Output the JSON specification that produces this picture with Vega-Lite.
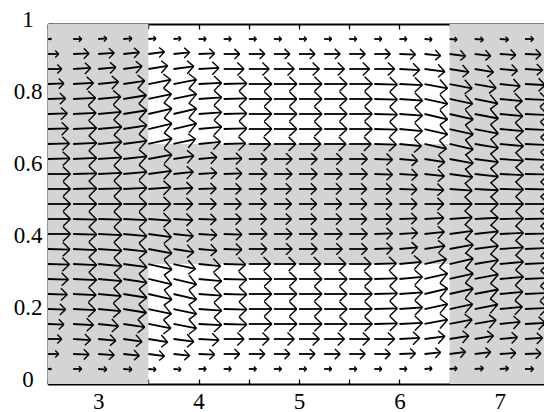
{
"$schema": "https://vega.github.io/schema/vega-lite/v6.json",
"width": 496, "height": 360,
"autosize": {"type": "none"},
"padding": {"left": 48, "top": 24, "right": 0, "bottom": 28},
"config": {"view": {"stroke": null}, "axis": {"grid": false, "domainColor": "#000", "domainWidth": 1.8, "tickColor": "#000", "tickWidth": 1.3, "labelFont": "Liberation Serif", "labelFontSize": 23, "labelColor": "#000", "zindex": 1}},
"datasets": {
"regions": [{"x0":2.5,"x1":3.5,"y0":0,"y1":1},{"x0":6.5,"x1":7.5,"y0":0,"y1":1},{"x0":3.5,"x1":6.5,"y0":0.3333,"y1":0.6667}],
"arrows": [
{"x":2.5,"y":0.0417,"u":0.03,"v":0},{"x":2.5,"y":0.0833,"u":0.1,"v":0},{"x":2.5,"y":0.125,"u":0.129,"v":0},{"x":2.5,"y":0.1667,"u":0.149,"v":-0.0014},{"x":2.5,"y":0.2083,"u":0.164,"v":-0.0014},{"x":2.5,"y":0.25,"u":0.179,"v":-0.0014},{"x":2.5,"y":0.2917,"u":0.189,"v":-0.0014},{"x":2.5,"y":0.3333,"u":0.199,"v":-0.0014},{"x":2.5,"y":0.375,"u":0.204,"v":-0.0014},{"x":2.5,"y":0.4167,"u":0.209,"v":0},{"x":2.5,"y":0.4583,"u":0.209,"v":0},{"x":2.5,"y":0.5,"u":0.209,"v":0},{"x":2.5,"y":0.5417,"u":0.209,"v":0},{"x":2.5,"y":0.5833,"u":0.209,"v":0},{"x":2.5,"y":0.625,"u":0.204,"v":0.0014},{"x":2.5,"y":0.6667,"u":0.199,"v":0.0014},{"x":2.5,"y":0.7083,"u":0.189,"v":0.0014},{"x":2.5,"y":0.75,"u":0.179,"v":0.0014},{"x":2.5,"y":0.7917,"u":0.164,"v":0.0014},{"x":2.5,"y":0.8333,"u":0.149,"v":0.0014},{"x":2.5,"y":0.875,"u":0.129,"v":0},{"x":2.5,"y":0.9167,"u":0.1,"v":0},{"x":2.5,"y":0.9583,"u":0.03,"v":0},
{"x":2.75,"y":0.0417,"u":0.08,"v":0},{"x":2.75,"y":0.0833,"u":0.149,"v":-0.0014},{"x":2.75,"y":0.125,"u":0.164,"v":-0.0028},{"x":2.75,"y":0.1667,"u":0.189,"v":-0.0028},{"x":2.75,"y":0.2083,"u":0.209,"v":-0.0028},{"x":2.75,"y":0.25,"u":0.214,"v":-0.0028},{"x":2.75,"y":0.2917,"u":0.219,"v":-0.0028},{"x":2.75,"y":0.3333,"u":0.219,"v":-0.0028},{"x":2.75,"y":0.375,"u":0.219,"v":-0.0028},{"x":2.75,"y":0.4167,"u":0.219,"v":-0.0014},{"x":2.75,"y":0.4583,"u":0.219,"v":-0.0014},{"x":2.75,"y":0.5,"u":0.219,"v":0},{"x":2.75,"y":0.5417,"u":0.219,"v":0.0014},{"x":2.75,"y":0.5833,"u":0.219,"v":0.0014},{"x":2.75,"y":0.625,"u":0.219,"v":0.0028},{"x":2.75,"y":0.6667,"u":0.219,"v":0.0028},{"x":2.75,"y":0.7083,"u":0.219,"v":0.0028},{"x":2.75,"y":0.75,"u":0.214,"v":0.0028},{"x":2.75,"y":0.7917,"u":0.209,"v":0.0028},{"x":2.75,"y":0.8333,"u":0.189,"v":0.0028},{"x":2.75,"y":0.875,"u":0.164,"v":0.0028},{"x":2.75,"y":0.9167,"u":0.149,"v":0.0014},{"x":2.75,"y":0.9583,"u":0.08,"v":0},
{"x":3.0,"y":0.0417,"u":0.08,"v":-0.0014},{"x":3.0,"y":0.0833,"u":0.149,"v":-0.0028},{"x":3.0,"y":0.125,"u":0.164,"v":-0.0042},{"x":3.0,"y":0.1667,"u":0.189,"v":-0.0056},{"x":3.0,"y":0.2083,"u":0.209,"v":-0.0056},{"x":3.0,"y":0.25,"u":0.214,"v":-0.0056},{"x":3.0,"y":0.2917,"u":0.219,"v":-0.0056},{"x":3.0,"y":0.3333,"u":0.219,"v":-0.0056},{"x":3.0,"y":0.375,"u":0.219,"v":-0.0042},{"x":3.0,"y":0.4167,"u":0.219,"v":-0.0028},{"x":3.0,"y":0.4583,"u":0.219,"v":-0.0014},{"x":3.0,"y":0.5,"u":0.219,"v":0},{"x":3.0,"y":0.5417,"u":0.219,"v":0.0014},{"x":3.0,"y":0.5833,"u":0.219,"v":0.0028},{"x":3.0,"y":0.625,"u":0.219,"v":0.0042},{"x":3.0,"y":0.6667,"u":0.219,"v":0.0056},{"x":3.0,"y":0.7083,"u":0.219,"v":0.0056},{"x":3.0,"y":0.75,"u":0.214,"v":0.0056},{"x":3.0,"y":0.7917,"u":0.209,"v":0.0056},{"x":3.0,"y":0.8333,"u":0.189,"v":0.0056},{"x":3.0,"y":0.875,"u":0.164,"v":0.0042},{"x":3.0,"y":0.9167,"u":0.149,"v":0.0028},{"x":3.0,"y":0.9583,"u":0.08,"v":0.0014},
{"x":3.25,"y":0.0417,"u":0.08,"v":-0.0014},{"x":3.25,"y":0.0833,"u":0.149,"v":-0.0042},{"x":3.25,"y":0.125,"u":0.174,"v":-0.0069},{"x":3.25,"y":0.1667,"u":0.199,"v":-0.0083},{"x":3.25,"y":0.2083,"u":0.214,"v":-0.0097},{"x":3.25,"y":0.25,"u":0.219,"v":-0.0097},{"x":3.25,"y":0.2917,"u":0.219,"v":-0.0097},{"x":3.25,"y":0.3333,"u":0.219,"v":-0.0083},{"x":3.25,"y":0.375,"u":0.219,"v":-0.0069},{"x":3.25,"y":0.4167,"u":0.219,"v":-0.0056},{"x":3.25,"y":0.4583,"u":0.219,"v":-0.0028},{"x":3.25,"y":0.5,"u":0.219,"v":0},{"x":3.25,"y":0.5417,"u":0.219,"v":0.0028},{"x":3.25,"y":0.5833,"u":0.219,"v":0.0056},{"x":3.25,"y":0.625,"u":0.219,"v":0.0069},{"x":3.25,"y":0.6667,"u":0.219,"v":0.0083},{"x":3.25,"y":0.7083,"u":0.219,"v":0.0097},{"x":3.25,"y":0.75,"u":0.219,"v":0.0097},{"x":3.25,"y":0.7917,"u":0.214,"v":0.0097},{"x":3.25,"y":0.8333,"u":0.199,"v":0.0083},{"x":3.25,"y":0.875,"u":0.174,"v":0.0069},{"x":3.25,"y":0.9167,"u":0.149,"v":0.0042},{"x":3.25,"y":0.9583,"u":0.08,"v":0.0014},
{"x":3.5,"y":0.0417,"u":0.07,"v":-0.0014},{"x":3.5,"y":0.0833,"u":0.149,"v":-0.0056},{"x":3.5,"y":0.125,"u":0.179,"v":-0.0083},{"x":3.5,"y":0.1667,"u":0.209,"v":-0.0111},{"x":3.5,"y":0.2083,"u":0.214,"v":-0.0125},{"x":3.5,"y":0.25,"u":0.219,"v":-0.0139},{"x":3.5,"y":0.2917,"u":0.219,"v":-0.0139},{"x":3.5,"y":0.3333,"u":0.219,"v":-0.0139},{"x":3.5,"y":0.375,"u":0.219,"v":-0.0111},{"x":3.5,"y":0.4167,"u":0.214,"v":-0.0083},{"x":3.5,"y":0.4583,"u":0.209,"v":-0.0042},{"x":3.5,"y":0.5,"u":0.209,"v":0},{"x":3.5,"y":0.5417,"u":0.209,"v":0.0042},{"x":3.5,"y":0.5833,"u":0.214,"v":0.0083},{"x":3.5,"y":0.625,"u":0.219,"v":0.0111},{"x":3.5,"y":0.6667,"u":0.219,"v":0.0139},{"x":3.5,"y":0.7083,"u":0.219,"v":0.0139},{"x":3.5,"y":0.75,"u":0.219,"v":0.0139},{"x":3.5,"y":0.7917,"u":0.214,"v":0.0125},{"x":3.5,"y":0.8333,"u":0.209,"v":0.0111},{"x":3.5,"y":0.875,"u":0.179,"v":0.0083},{"x":3.5,"y":0.9167,"u":0.149,"v":0.0056},{"x":3.5,"y":0.9583,"u":0.07,"v":0.0014},
{"x":3.75,"y":0.0417,"u":0.07,"v":-0.0014},{"x":3.75,"y":0.0833,"u":0.149,"v":-0.0042},{"x":3.75,"y":0.125,"u":0.189,"v":-0.0069},{"x":3.75,"y":0.1667,"u":0.214,"v":-0.0111},{"x":3.75,"y":0.2083,"u":0.214,"v":-0.0125},{"x":3.75,"y":0.25,"u":0.214,"v":-0.0139},{"x":3.75,"y":0.2917,"u":0.214,"v":-0.0139},{"x":3.75,"y":0.3333,"u":0.204,"v":-0.0125},{"x":3.75,"y":0.375,"u":0.189,"v":-0.0083},{"x":3.75,"y":0.4167,"u":0.184,"v":-0.0056},{"x":3.75,"y":0.4583,"u":0.179,"v":-0.0028},{"x":3.75,"y":0.5,"u":0.179,"v":0},{"x":3.75,"y":0.5417,"u":0.179,"v":0.0028},{"x":3.75,"y":0.5833,"u":0.184,"v":0.0056},{"x":3.75,"y":0.625,"u":0.189,"v":0.0083},{"x":3.75,"y":0.6667,"u":0.204,"v":0.0125},{"x":3.75,"y":0.7083,"u":0.214,"v":0.0139},{"x":3.75,"y":0.75,"u":0.214,"v":0.0139},{"x":3.75,"y":0.7917,"u":0.214,"v":0.0125},{"x":3.75,"y":0.8333,"u":0.214,"v":0.0111},{"x":3.75,"y":0.875,"u":0.189,"v":0.0069},{"x":3.75,"y":0.9167,"u":0.149,"v":0.0042},{"x":3.75,"y":0.9583,"u":0.07,"v":0.0014},
{"x":4.0,"y":0.0417,"u":0.07,"v":0},{"x":4.0,"y":0.0833,"u":0.149,"v":-0.0014},{"x":4.0,"y":0.125,"u":0.189,"v":-0.0028},{"x":4.0,"y":0.1667,"u":0.214,"v":-0.0028},{"x":4.0,"y":0.2083,"u":0.214,"v":-0.0042},{"x":4.0,"y":0.25,"u":0.214,"v":-0.0042},{"x":4.0,"y":0.2917,"u":0.214,"v":-0.0056},{"x":4.0,"y":0.3333,"u":0.204,"v":-0.0056},{"x":4.0,"y":0.375,"u":0.169,"v":-0.0042},{"x":4.0,"y":0.4167,"u":0.169,"v":-0.0028},{"x":4.0,"y":0.4583,"u":0.164,"v":-0.0014},{"x":4.0,"y":0.5,"u":0.164,"v":0},{"x":4.0,"y":0.5417,"u":0.164,"v":0.0014},{"x":4.0,"y":0.5833,"u":0.169,"v":0.0028},{"x":4.0,"y":0.625,"u":0.169,"v":0.0042},{"x":4.0,"y":0.6667,"u":0.204,"v":0.0056},{"x":4.0,"y":0.7083,"u":0.214,"v":0.0056},{"x":4.0,"y":0.75,"u":0.214,"v":0.0042},{"x":4.0,"y":0.7917,"u":0.214,"v":0.0042},{"x":4.0,"y":0.8333,"u":0.214,"v":0.0028},{"x":4.0,"y":0.875,"u":0.189,"v":0.0028},{"x":4.0,"y":0.9167,"u":0.149,"v":0.0014},{"x":4.0,"y":0.9583,"u":0.07,"v":0},
{"x":4.25,"y":0.0417,"u":0.07,"v":0},{"x":4.25,"y":0.0833,"u":0.149,"v":0},{"x":4.25,"y":0.125,"u":0.189,"v":0},{"x":4.25,"y":0.1667,"u":0.214,"v":-0.0014},{"x":4.25,"y":0.2083,"u":0.214,"v":-0.0014},{"x":4.25,"y":0.25,"u":0.214,"v":-0.0014},{"x":4.25,"y":0.2917,"u":0.214,"v":-0.0014},{"x":4.25,"y":0.3333,"u":0.204,"v":-0.0014},{"x":4.25,"y":0.375,"u":0.169,"v":-0.0014},{"x":4.25,"y":0.4167,"u":0.169,"v":-0.0014},{"x":4.25,"y":0.4583,"u":0.164,"v":0},{"x":4.25,"y":0.5,"u":0.164,"v":0},{"x":4.25,"y":0.5417,"u":0.164,"v":0},{"x":4.25,"y":0.5833,"u":0.169,"v":0.0014},{"x":4.25,"y":0.625,"u":0.169,"v":0.0014},{"x":4.25,"y":0.6667,"u":0.204,"v":0.0014},{"x":4.25,"y":0.7083,"u":0.214,"v":0.0014},{"x":4.25,"y":0.75,"u":0.214,"v":0.0014},{"x":4.25,"y":0.7917,"u":0.214,"v":0.0014},{"x":4.25,"y":0.8333,"u":0.214,"v":0.0014},{"x":4.25,"y":0.875,"u":0.189,"v":0},{"x":4.25,"y":0.9167,"u":0.149,"v":0},{"x":4.25,"y":0.9583,"u":0.07,"v":0},
{"x":4.5,"y":0.0417,"u":0.07,"v":0},{"x":4.5,"y":0.0833,"u":0.149,"v":0},{"x":4.5,"y":0.125,"u":0.189,"v":0},{"x":4.5,"y":0.1667,"u":0.214,"v":0},{"x":4.5,"y":0.2083,"u":0.214,"v":0},{"x":4.5,"y":0.25,"u":0.214,"v":0},{"x":4.5,"y":0.2917,"u":0.214,"v":0},{"x":4.5,"y":0.3333,"u":0.204,"v":0},{"x":4.5,"y":0.375,"u":0.169,"v":0},{"x":4.5,"y":0.4167,"u":0.169,"v":0},{"x":4.5,"y":0.4583,"u":0.164,"v":0},{"x":4.5,"y":0.5,"u":0.164,"v":0},{"x":4.5,"y":0.5417,"u":0.164,"v":0},{"x":4.5,"y":0.5833,"u":0.169,"v":0},{"x":4.5,"y":0.625,"u":0.169,"v":0},{"x":4.5,"y":0.6667,"u":0.204,"v":0},{"x":4.5,"y":0.7083,"u":0.214,"v":0},{"x":4.5,"y":0.75,"u":0.214,"v":0},{"x":4.5,"y":0.7917,"u":0.214,"v":0},{"x":4.5,"y":0.8333,"u":0.214,"v":0},{"x":4.5,"y":0.875,"u":0.189,"v":0},{"x":4.5,"y":0.9167,"u":0.149,"v":0},{"x":4.5,"y":0.9583,"u":0.07,"v":0},
{"x":4.75,"y":0.0417,"u":0.07,"v":0},{"x":4.75,"y":0.0833,"u":0.149,"v":0},{"x":4.75,"y":0.125,"u":0.189,"v":0},{"x":4.75,"y":0.1667,"u":0.214,"v":0},{"x":4.75,"y":0.2083,"u":0.214,"v":0},{"x":4.75,"y":0.25,"u":0.214,"v":0},{"x":4.75,"y":0.2917,"u":0.214,"v":0},{"x":4.75,"y":0.3333,"u":0.204,"v":0},{"x":4.75,"y":0.375,"u":0.169,"v":0},{"x":4.75,"y":0.4167,"u":0.169,"v":0},{"x":4.75,"y":0.4583,"u":0.164,"v":0},{"x":4.75,"y":0.5,"u":0.164,"v":0},{"x":4.75,"y":0.5417,"u":0.164,"v":0},{"x":4.75,"y":0.5833,"u":0.169,"v":0},{"x":4.75,"y":0.625,"u":0.169,"v":0},{"x":4.75,"y":0.6667,"u":0.204,"v":0},{"x":4.75,"y":0.7083,"u":0.214,"v":0},{"x":4.75,"y":0.75,"u":0.214,"v":0},{"x":4.75,"y":0.7917,"u":0.214,"v":0},{"x":4.75,"y":0.8333,"u":0.214,"v":0},{"x":4.75,"y":0.875,"u":0.189,"v":0},{"x":4.75,"y":0.9167,"u":0.149,"v":0},{"x":4.75,"y":0.9583,"u":0.07,"v":0},
{"x":5.0,"y":0.0417,"u":0.07,"v":0},{"x":5.0,"y":0.0833,"u":0.149,"v":0},{"x":5.0,"y":0.125,"u":0.189,"v":0},{"x":5.0,"y":0.1667,"u":0.214,"v":0},{"x":5.0,"y":0.2083,"u":0.214,"v":0},{"x":5.0,"y":0.25,"u":0.214,"v":0},{"x":5.0,"y":0.2917,"u":0.214,"v":0},{"x":5.0,"y":0.3333,"u":0.204,"v":0},{"x":5.0,"y":0.375,"u":0.169,"v":0},{"x":5.0,"y":0.4167,"u":0.169,"v":0},{"x":5.0,"y":0.4583,"u":0.164,"v":0},{"x":5.0,"y":0.5,"u":0.164,"v":0},{"x":5.0,"y":0.5417,"u":0.164,"v":0},{"x":5.0,"y":0.5833,"u":0.169,"v":0},{"x":5.0,"y":0.625,"u":0.169,"v":0},{"x":5.0,"y":0.6667,"u":0.204,"v":0},{"x":5.0,"y":0.7083,"u":0.214,"v":0},{"x":5.0,"y":0.75,"u":0.214,"v":0},{"x":5.0,"y":0.7917,"u":0.214,"v":0},{"x":5.0,"y":0.8333,"u":0.214,"v":0},{"x":5.0,"y":0.875,"u":0.189,"v":0},{"x":5.0,"y":0.9167,"u":0.149,"v":0},{"x":5.0,"y":0.9583,"u":0.07,"v":0},
{"x":5.25,"y":0.0417,"u":0.07,"v":0},{"x":5.25,"y":0.0833,"u":0.149,"v":0},{"x":5.25,"y":0.125,"u":0.189,"v":0},{"x":5.25,"y":0.1667,"u":0.214,"v":0},{"x":5.25,"y":0.2083,"u":0.214,"v":0},{"x":5.25,"y":0.25,"u":0.214,"v":0},{"x":5.25,"y":0.2917,"u":0.214,"v":0},{"x":5.25,"y":0.3333,"u":0.204,"v":0},{"x":5.25,"y":0.375,"u":0.169,"v":0},{"x":5.25,"y":0.4167,"u":0.169,"v":0},{"x":5.25,"y":0.4583,"u":0.164,"v":0},{"x":5.25,"y":0.5,"u":0.164,"v":0},{"x":5.25,"y":0.5417,"u":0.164,"v":0},{"x":5.25,"y":0.5833,"u":0.169,"v":0},{"x":5.25,"y":0.625,"u":0.169,"v":0},{"x":5.25,"y":0.6667,"u":0.204,"v":0},{"x":5.25,"y":0.7083,"u":0.214,"v":0},{"x":5.25,"y":0.75,"u":0.214,"v":0},{"x":5.25,"y":0.7917,"u":0.214,"v":0},{"x":5.25,"y":0.8333,"u":0.214,"v":0},{"x":5.25,"y":0.875,"u":0.189,"v":0},{"x":5.25,"y":0.9167,"u":0.149,"v":0},{"x":5.25,"y":0.9583,"u":0.07,"v":0},
{"x":5.5,"y":0.0417,"u":0.07,"v":0},{"x":5.5,"y":0.0833,"u":0.149,"v":0},{"x":5.5,"y":0.125,"u":0.189,"v":0},{"x":5.5,"y":0.1667,"u":0.214,"v":0},{"x":5.5,"y":0.2083,"u":0.214,"v":0},{"x":5.5,"y":0.25,"u":0.214,"v":0},{"x":5.5,"y":0.2917,"u":0.214,"v":0},{"x":5.5,"y":0.3333,"u":0.204,"v":0},{"x":5.5,"y":0.375,"u":0.169,"v":0},{"x":5.5,"y":0.4167,"u":0.169,"v":0},{"x":5.5,"y":0.4583,"u":0.164,"v":0},{"x":5.5,"y":0.5,"u":0.164,"v":0},{"x":5.5,"y":0.5417,"u":0.164,"v":0},{"x":5.5,"y":0.5833,"u":0.169,"v":0},{"x":5.5,"y":0.625,"u":0.169,"v":0},{"x":5.5,"y":0.6667,"u":0.204,"v":0},{"x":5.5,"y":0.7083,"u":0.214,"v":0},{"x":5.5,"y":0.75,"u":0.214,"v":0},{"x":5.5,"y":0.7917,"u":0.214,"v":0},{"x":5.5,"y":0.8333,"u":0.214,"v":0},{"x":5.5,"y":0.875,"u":0.189,"v":0},{"x":5.5,"y":0.9167,"u":0.149,"v":0},{"x":5.5,"y":0.9583,"u":0.07,"v":0},
{"x":5.75,"y":0.0417,"u":0.07,"v":0},{"x":5.75,"y":0.0833,"u":0.149,"v":0},{"x":5.75,"y":0.125,"u":0.189,"v":0},{"x":5.75,"y":0.1667,"u":0.214,"v":0.0014},{"x":5.75,"y":0.2083,"u":0.214,"v":0.0014},{"x":5.75,"y":0.25,"u":0.214,"v":0.0014},{"x":5.75,"y":0.2917,"u":0.214,"v":0.0014},{"x":5.75,"y":0.3333,"u":0.204,"v":0.0014},{"x":5.75,"y":0.375,"u":0.169,"v":0.0014},{"x":5.75,"y":0.4167,"u":0.169,"v":0.0014},{"x":5.75,"y":0.4583,"u":0.164,"v":0},{"x":5.75,"y":0.5,"u":0.164,"v":0},{"x":5.75,"y":0.5417,"u":0.164,"v":0},{"x":5.75,"y":0.5833,"u":0.169,"v":-0.0014},{"x":5.75,"y":0.625,"u":0.169,"v":-0.0014},{"x":5.75,"y":0.6667,"u":0.204,"v":-0.0014},{"x":5.75,"y":0.7083,"u":0.214,"v":-0.0014},{"x":5.75,"y":0.75,"u":0.214,"v":-0.0014},{"x":5.75,"y":0.7917,"u":0.214,"v":-0.0014},{"x":5.75,"y":0.8333,"u":0.214,"v":-0.0014},{"x":5.75,"y":0.875,"u":0.189,"v":0},{"x":5.75,"y":0.9167,"u":0.149,"v":0},{"x":5.75,"y":0.9583,"u":0.07,"v":0},
{"x":6.0,"y":0.0417,"u":0.07,"v":0},{"x":6.0,"y":0.0833,"u":0.149,"v":0.0014},{"x":6.0,"y":0.125,"u":0.189,"v":0.0028},{"x":6.0,"y":0.1667,"u":0.214,"v":0.0028},{"x":6.0,"y":0.2083,"u":0.214,"v":0.0042},{"x":6.0,"y":0.25,"u":0.214,"v":0.0042},{"x":6.0,"y":0.2917,"u":0.214,"v":0.0056},{"x":6.0,"y":0.3333,"u":0.204,"v":0.0056},{"x":6.0,"y":0.375,"u":0.169,"v":0.0042},{"x":6.0,"y":0.4167,"u":0.169,"v":0.0028},{"x":6.0,"y":0.4583,"u":0.164,"v":0.0014},{"x":6.0,"y":0.5,"u":0.164,"v":0},{"x":6.0,"y":0.5417,"u":0.164,"v":-0.0014},{"x":6.0,"y":0.5833,"u":0.169,"v":-0.0028},{"x":6.0,"y":0.625,"u":0.169,"v":-0.0042},{"x":6.0,"y":0.6667,"u":0.204,"v":-0.0056},{"x":6.0,"y":0.7083,"u":0.214,"v":-0.0056},{"x":6.0,"y":0.75,"u":0.214,"v":-0.0042},{"x":6.0,"y":0.7917,"u":0.214,"v":-0.0042},{"x":6.0,"y":0.8333,"u":0.214,"v":-0.0028},{"x":6.0,"y":0.875,"u":0.189,"v":-0.0028},{"x":6.0,"y":0.9167,"u":0.149,"v":-0.0014},{"x":6.0,"y":0.9583,"u":0.07,"v":0},
{"x":6.25,"y":0.0417,"u":0.07,"v":0.0014},{"x":6.25,"y":0.0833,"u":0.149,"v":0.0042},{"x":6.25,"y":0.125,"u":0.189,"v":0.0069},{"x":6.25,"y":0.1667,"u":0.214,"v":0.0111},{"x":6.25,"y":0.2083,"u":0.214,"v":0.0125},{"x":6.25,"y":0.25,"u":0.214,"v":0.0139},{"x":6.25,"y":0.2917,"u":0.214,"v":0.0139},{"x":6.25,"y":0.3333,"u":0.204,"v":0.0125},{"x":6.25,"y":0.375,"u":0.189,"v":0.0083},{"x":6.25,"y":0.4167,"u":0.184,"v":0.0056},{"x":6.25,"y":0.4583,"u":0.179,"v":0.0028},{"x":6.25,"y":0.5,"u":0.179,"v":0},{"x":6.25,"y":0.5417,"u":0.179,"v":-0.0028},{"x":6.25,"y":0.5833,"u":0.184,"v":-0.0056},{"x":6.25,"y":0.625,"u":0.189,"v":-0.0083},{"x":6.25,"y":0.6667,"u":0.204,"v":-0.0125},{"x":6.25,"y":0.7083,"u":0.214,"v":-0.0139},{"x":6.25,"y":0.75,"u":0.214,"v":-0.0139},{"x":6.25,"y":0.7917,"u":0.214,"v":-0.0125},{"x":6.25,"y":0.8333,"u":0.214,"v":-0.0111},{"x":6.25,"y":0.875,"u":0.189,"v":-0.0069},{"x":6.25,"y":0.9167,"u":0.149,"v":-0.0042},{"x":6.25,"y":0.9583,"u":0.07,"v":-0.0014},
{"x":6.5,"y":0.0417,"u":0.07,"v":0.0014},{"x":6.5,"y":0.0833,"u":0.149,"v":0.0056},{"x":6.5,"y":0.125,"u":0.179,"v":0.0083},{"x":6.5,"y":0.1667,"u":0.209,"v":0.0111},{"x":6.5,"y":0.2083,"u":0.214,"v":0.0125},{"x":6.5,"y":0.25,"u":0.219,"v":0.0139},{"x":6.5,"y":0.2917,"u":0.219,"v":0.0139},{"x":6.5,"y":0.3333,"u":0.219,"v":0.0139},{"x":6.5,"y":0.375,"u":0.219,"v":0.0111},{"x":6.5,"y":0.4167,"u":0.214,"v":0.0083},{"x":6.5,"y":0.4583,"u":0.209,"v":0.0042},{"x":6.5,"y":0.5,"u":0.209,"v":0},{"x":6.5,"y":0.5417,"u":0.209,"v":-0.0042},{"x":6.5,"y":0.5833,"u":0.214,"v":-0.0083},{"x":6.5,"y":0.625,"u":0.219,"v":-0.0111},{"x":6.5,"y":0.6667,"u":0.219,"v":-0.0139},{"x":6.5,"y":0.7083,"u":0.219,"v":-0.0139},{"x":6.5,"y":0.75,"u":0.219,"v":-0.0139},{"x":6.5,"y":0.7917,"u":0.214,"v":-0.0125},{"x":6.5,"y":0.8333,"u":0.209,"v":-0.0111},{"x":6.5,"y":0.875,"u":0.179,"v":-0.0083},{"x":6.5,"y":0.9167,"u":0.149,"v":-0.0056},{"x":6.5,"y":0.9583,"u":0.07,"v":-0.0014},
{"x":6.75,"y":0.0417,"u":0.08,"v":0.0017},{"x":6.75,"y":0.0833,"u":0.149,"v":0.005},{"x":6.75,"y":0.125,"u":0.174,"v":0.0083},{"x":6.75,"y":0.1667,"u":0.199,"v":0.01},{"x":6.75,"y":0.2083,"u":0.214,"v":0.0117},{"x":6.75,"y":0.25,"u":0.219,"v":0.0117},{"x":6.75,"y":0.2917,"u":0.219,"v":0.0117},{"x":6.75,"y":0.3333,"u":0.219,"v":0.01},{"x":6.75,"y":0.375,"u":0.219,"v":0.0083},{"x":6.75,"y":0.4167,"u":0.219,"v":0.0067},{"x":6.75,"y":0.4583,"u":0.219,"v":0.0033},{"x":6.75,"y":0.5,"u":0.219,"v":0},{"x":6.75,"y":0.5417,"u":0.219,"v":-0.0033},{"x":6.75,"y":0.5833,"u":0.219,"v":-0.0067},{"x":6.75,"y":0.625,"u":0.219,"v":-0.0083},{"x":6.75,"y":0.6667,"u":0.219,"v":-0.01},{"x":6.75,"y":0.7083,"u":0.219,"v":-0.0117},{"x":6.75,"y":0.75,"u":0.219,"v":-0.0117},{"x":6.75,"y":0.7917,"u":0.214,"v":-0.0117},{"x":6.75,"y":0.8333,"u":0.199,"v":-0.01},{"x":6.75,"y":0.875,"u":0.174,"v":-0.0083},{"x":6.75,"y":0.9167,"u":0.149,"v":-0.005},{"x":6.75,"y":0.9583,"u":0.08,"v":-0.0017},
{"x":7.0,"y":0.0417,"u":0.08,"v":0.0014},{"x":7.0,"y":0.0833,"u":0.149,"v":0.0028},{"x":7.0,"y":0.125,"u":0.164,"v":0.0042},{"x":7.0,"y":0.1667,"u":0.189,"v":0.0056},{"x":7.0,"y":0.2083,"u":0.209,"v":0.0056},{"x":7.0,"y":0.25,"u":0.214,"v":0.0056},{"x":7.0,"y":0.2917,"u":0.219,"v":0.0056},{"x":7.0,"y":0.3333,"u":0.219,"v":0.0056},{"x":7.0,"y":0.375,"u":0.219,"v":0.0042},{"x":7.0,"y":0.4167,"u":0.219,"v":0.0028},{"x":7.0,"y":0.4583,"u":0.219,"v":0.0014},{"x":7.0,"y":0.5,"u":0.219,"v":0},{"x":7.0,"y":0.5417,"u":0.219,"v":-0.0014},{"x":7.0,"y":0.5833,"u":0.219,"v":-0.0028},{"x":7.0,"y":0.625,"u":0.219,"v":-0.0042},{"x":7.0,"y":0.6667,"u":0.219,"v":-0.0056},{"x":7.0,"y":0.7083,"u":0.219,"v":-0.0056},{"x":7.0,"y":0.75,"u":0.214,"v":-0.0056},{"x":7.0,"y":0.7917,"u":0.209,"v":-0.0056},{"x":7.0,"y":0.8333,"u":0.189,"v":-0.0056},{"x":7.0,"y":0.875,"u":0.164,"v":-0.0042},{"x":7.0,"y":0.9167,"u":0.149,"v":-0.0028},{"x":7.0,"y":0.9583,"u":0.08,"v":-0.0014},
{"x":7.25,"y":0.0417,"u":0.08,"v":0},{"x":7.25,"y":0.0833,"u":0.149,"v":0.0014},{"x":7.25,"y":0.125,"u":0.164,"v":0.0028},{"x":7.25,"y":0.1667,"u":0.189,"v":0.0028},{"x":7.25,"y":0.2083,"u":0.209,"v":0.0028},{"x":7.25,"y":0.25,"u":0.214,"v":0.0028},{"x":7.25,"y":0.2917,"u":0.219,"v":0.0028},{"x":7.25,"y":0.3333,"u":0.219,"v":0.0028},{"x":7.25,"y":0.375,"u":0.219,"v":0.0028},{"x":7.25,"y":0.4167,"u":0.219,"v":0.0014},{"x":7.25,"y":0.4583,"u":0.219,"v":0.0014},{"x":7.25,"y":0.5,"u":0.219,"v":0},{"x":7.25,"y":0.5417,"u":0.219,"v":-0.0014},{"x":7.25,"y":0.5833,"u":0.219,"v":-0.0014},{"x":7.25,"y":0.625,"u":0.219,"v":-0.0028},{"x":7.25,"y":0.6667,"u":0.219,"v":-0.0028},{"x":7.25,"y":0.7083,"u":0.219,"v":-0.0028},{"x":7.25,"y":0.75,"u":0.214,"v":-0.0028},{"x":7.25,"y":0.7917,"u":0.209,"v":-0.0028},{"x":7.25,"y":0.8333,"u":0.189,"v":-0.0028},{"x":7.25,"y":0.875,"u":0.164,"v":-0.0028},{"x":7.25,"y":0.9167,"u":0.149,"v":-0.0014},{"x":7.25,"y":0.9583,"u":0.08,"v":0}
]},
"resolve": {"axis": {"x": "independent", "y": "independent"}},
"layer": [
{"data": {"name": "regions"},
 "mark": {"type": "rect", "color": "#d4d4d6", "clip": true},
 "encoding": {
  "x": {"field": "x0", "type": "quantitative", "scale": {"domain": [2.5, 7.44], "nice": false, "zero": false},
        "axis": {"orient": "bottom", "title": null, "values": [2.5,3,3.5,4,4.5,5,5.5,6,6.5,7], "format": "~g", "labelExpr": "datum.value % 1 === 0 ? datum.label : ''", "tickSize": -5, "labelPadding": 11}},
  "x2": {"field": "x1"},
  "y": {"field": "y0", "type": "quantitative", "scale": {"domain": [0, 1], "nice": false, "zero": false},
        "axis": {"orient": "left", "title": null, "values": [0,0.2,0.4,0.6,0.8,1], "format": "~g", "tickSize": -5, "labelPadding": 25.5, "labelAlign": "center", "labelBaseline": "alphabetic", "labelOffset": 2}},
  "y2": {"field": "y1"}
 }},
{"data": {"name": "arrows"},
 "transform": [
  {"calculate": "datum.x + 1.07*datum.u", "as": "xe"},
  {"calculate": "datum.y + 1.07*datum.v", "as": "ye"},
  {"calculate": "datum.x + 1.07*(datum.u - 0.33*(datum.u + 0.27*datum.v))", "as": "h1x"},
  {"calculate": "datum.y + 1.07*(datum.v - 0.33*(datum.v - 0.27*datum.u))", "as": "h1y"},
  {"calculate": "datum.x + 1.07*(datum.u - 0.33*(datum.u - 0.27*datum.v))", "as": "h2x"},
  {"calculate": "datum.y + 1.07*(datum.v - 0.33*(datum.v + 0.27*datum.u))", "as": "h2y"}
 ],
 "resolve": {"axis": {"x": "independent", "y": "independent"}},
 "layer": [
  {"mark": {"type": "rule", "color": "#000", "strokeWidth": 1.8, "clip": true},
   "encoding": {
    "x": {"field": "x", "type": "quantitative", "scale": {"domain": [2.5, 7.44], "nice": false, "zero": false},
          "axis": {"orient": "top", "title": null, "values": [2.5,3,3.5,4,4.5,5,5.5,6,6.5,7], "labels": false, "tickSize": -5}},
    "y": {"field": "y", "type": "quantitative", "scale": {"domain": [0, 1], "nice": false, "zero": false}, "axis": null},
    "x2": {"field": "xe"}, "y2": {"field": "ye"}}},
  {"mark": {"type": "rule", "color": "#000", "strokeWidth": 1.4, "clip": true},
   "encoding": {
    "x": {"field": "h1x", "type": "quantitative", "scale": {"domain": [2.5, 7.44], "nice": false, "zero": false}, "axis": null},
    "y": {"field": "h1y", "type": "quantitative", "scale": {"domain": [0, 1], "nice": false, "zero": false}, "axis": null},
    "x2": {"field": "xe"}, "y2": {"field": "ye"}}},
  {"mark": {"type": "rule", "color": "#000", "strokeWidth": 1.4, "clip": true},
   "encoding": {
    "x": {"field": "h2x", "type": "quantitative", "scale": {"domain": [2.5, 7.44], "nice": false, "zero": false}, "axis": null},
    "y": {"field": "h2y", "type": "quantitative", "scale": {"domain": [0, 1], "nice": false, "zero": false}, "axis": null},
    "x2": {"field": "xe"}, "y2": {"field": "ye"}}}
 ]}
]
}
